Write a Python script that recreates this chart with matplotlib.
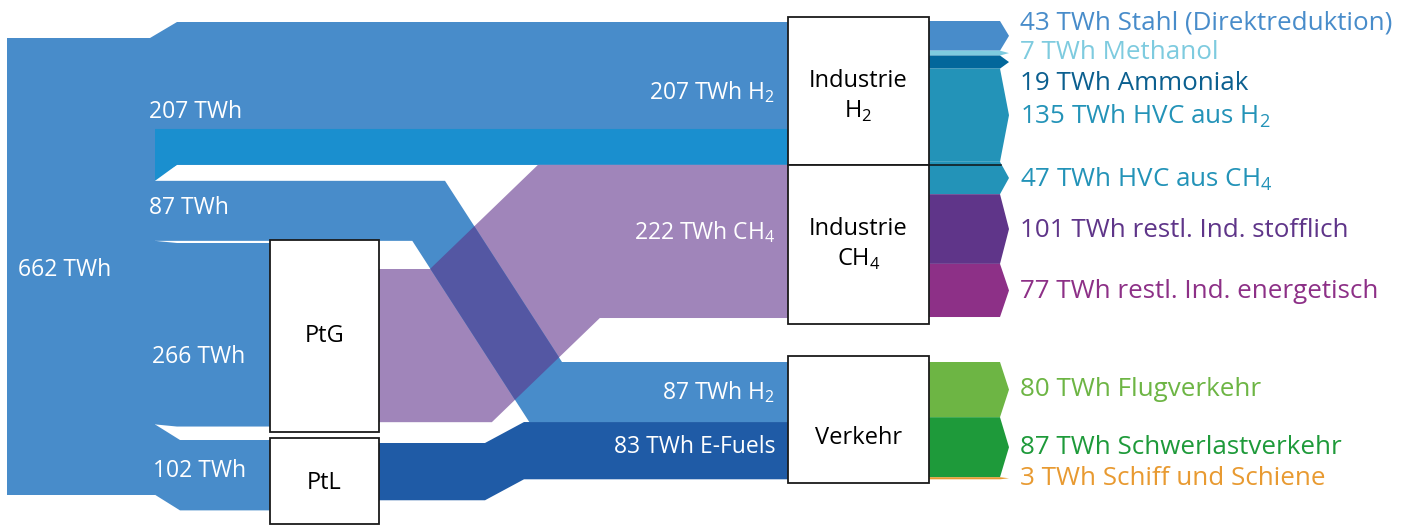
import numpy as np
import matplotlib.pyplot as plt
from matplotlib.patches import Polygon, Rectangle


# -----------------------------
# Data (TWh)
# -----------------------------

source_total = 662
source_flows = [207, 87, 266, 102]          # -> Industrie H2, Verkehr H2, PtG, PtL
source_flow_labels = ["207 TWh", "87 TWh", "266 TWh", "102 TWh"]
h2_highlight = 52                           # lower (cyan) part of the 207 TWh band

ptg_out = 222                               # CH4 to Industrie
ptl_out = 83                                # E-Fuels to Verkehr

ind_h2_uses = [43, 7, 19, 135]
ind_h2_names = ["Stahl (Direktreduktion)", "Methanol", "Ammoniak", r"HVC aus H$_\mathregular{2}$"]

ind_ch4_uses = [47, 101, 77]
ind_ch4_names = [r"HVC aus CH$_\mathregular{4}$", "restl. Ind. stofflich", "restl. Ind. energetisch"]

verkehr_uses = [80, 87, 3]
verkehr_names = ["Flugverkehr", "Schwerlastverkehr", "Schiff und Schiene"]


# -----------------------------
# Style / layout
# -----------------------------

OUTPUT_FILE = "out.png"

S = 0.69          # pixels per TWh

C_BLUE = "#488CCA"
C_CYAN = "#1A8FCF"
C_PURPLE = "#A085BA"
C_OVERLAP = "#5457A3"
C_EFUEL = "#1F5BA6"

ind_h2_colors = ["#488CCA", "#7ECBDF", "#02679B", "#2393B8"]
ind_ch4_colors = ["#2393B8", "#5F3589", "#8D3087"]
verkehr_colors = ["#6DB544", "#1E9A3A", "#E89A31"]
ind_h2_label_colors = ["#488CCA", "#7ECBDF", "#0B5F8F", "#2393B8"]

plt.rcParams["font.family"] = ["Open Sans", "DejaVu Sans"]
plt.rcParams["mathtext.fontset"] = "custom"
plt.rcParams["mathtext.rm"] = "Open Sans"

SRC_X0, SRC_X1, SRC_TOP = 7, 155, 38
MID_X0, MID_X1 = 270, 379          # PtG / PtL column
END_X0, END_X1 = 788, 929          # Industrie / Verkehr column
ARROW_END, ARROW_TIP = 1000, 9
LABEL_X = 1020

FS_RIGHT = 18.7
FS_WHITE = 16.5
FS_BOX = 17


# -----------------------------
# Helpers
# -----------------------------

def ramp_band(x0, x1, xr0, xr1, y0, y1, h):
  # sheared band: moves vertically between xr0 and xr1
  return [(x0, y0), (xr0, y0), (xr1, y1), (x1, y1),
          (x1, y1 + h), (xr1, y1 + h), (xr0, y0 + h), (x0, y0 + h)]


def diag_band(x0, x1, xd0, xd1, y0, y1, h):
  # band with constant perpendicular thickness along the diagonal
  m = (y1 - y0) / (xd1 - xd0)
  dx = h * (1 - np.sqrt(1 + m * m)) / m
  return [(x0, y0), (xd0, y0), (xd1, y1), (x1, y1),
          (x1, y1 + h), (xd1 + dx, y1 + h), (xd0 + dx, y0 + h), (x0, y0 + h)]


def chevron(x0, y, h):
  return [(x0, y), (ARROW_END, y), (ARROW_END + ARROW_TIP, y + h / 2),
          (ARROW_END, y + h), (x0, y + h)]


def add_poly(ax, pts, color, z=1):
  p = Polygon(pts, closed=True, facecolor=color, edgecolor="none", zorder=z)
  ax.add_patch(p)
  return p


# -----------------------------
# Plot
# -----------------------------

fig = plt.figure(figsize=(14.09, 5.25), dpi=100)
ax = fig.add_axes([0, 0, 1, 1])
ax.set_xlim(0, 1409)
ax.set_ylim(525, 0)
ax.axis("off")

# source stack positions
src_tops = SRC_TOP + S * np.concatenate([[0], np.cumsum(source_flows)[:-1]])
heights = [v * S for v in source_flows]

ax.add_patch(Rectangle((SRC_X0, SRC_TOP), SRC_X1 - SRC_X0, source_total * S,
                       facecolor=C_BLUE, edgecolor="none", zorder=1))

# targets
ind_top = 22
ind_split = ind_top + source_flows[0] * S
verkehr_top = 362
ptg_in_top, ptl_in_top = 243, 440
ptg_out_top, ptl_out_top = 269, 443

# 207 TWh -> Industrie H2
add_poly(ax, ramp_band(SRC_X1 - 5, END_X0, SRC_X1 - 5, 177, src_tops[0], ind_top, heights[0]), C_BLUE)
cy = ind_top + (source_flows[0] - h2_highlight) * S
add_poly(ax, [(SRC_X1, cy), (END_X0, cy), (END_X0, ind_split), (177, ind_split),
              (SRC_X1, src_tops[0] + heights[0])], C_CYAN, z=2)

# 266 TWh -> PtG, 102 TWh -> PtL
add_poly(ax, ramp_band(SRC_X1, MID_X0, SRC_X1, 177, src_tops[2], ptg_in_top, heights[2]), C_BLUE)
add_poly(ax, ramp_band(SRC_X1, MID_X0, SRC_X1, 180, src_tops[3], ptl_in_top, heights[3]), C_BLUE)

# PtG -> Industrie CH4
purple = add_poly(ax, diag_band(MID_X1, END_X0, 430, 538, ptg_out_top, ind_split, ptg_out * S), C_PURPLE, z=2)

# 87 TWh H2 -> Verkehr (crossing)
blue_pts = diag_band(SRC_X1, END_X0, 445, 562, src_tops[1], verkehr_top, heights[1])
add_poly(ax, blue_pts, C_BLUE, z=3)
ov = add_poly(ax, blue_pts, C_OVERLAP, z=4)
ov.set_clip_path(purple)

# PtL -> Verkehr
add_poly(ax, ramp_band(MID_X1, END_X0, 485, 524, ptl_out_top, verkehr_top + heights[1], ptl_out * S), C_EFUEL, z=2)

# output arrows
out_y = 21
ind_uses = ind_h2_uses + ind_ch4_uses
ind_colors = ind_h2_colors + ind_ch4_colors
ind_out_tops = out_y + S * np.concatenate([[0], np.cumsum(ind_uses)[:-1]])
for v, t, c in zip(ind_uses, ind_out_tops, ind_colors):
  add_poly(ax, chevron(END_X1, t, v * S), c, z=2)

ver_out_tops = verkehr_top + S * np.concatenate([[0], np.cumsum(verkehr_uses)[:-1]])
for v, t, c in zip(verkehr_uses, ver_out_tops, verkehr_colors):
  add_poly(ax, chevron(END_X1, t, v * S), c, z=2)

ax.plot([END_X1, ARROW_END + 1], [ind_split, ind_split], color="#111111", lw=1.1, zorder=6)

# nodes (label y offset in px)
boxes = [
  (MID_X0, 240, MID_X1, 432, "PtG", 0),
  (MID_X0, 438, MID_X1, 524, "PtL", 2),
  (END_X0, 17, END_X1, ind_split, "Industrie\nH$_\\mathregular{2}$", 6),
  (END_X0, ind_split, END_X1, 324, "Industrie\nCH$_\\mathregular{4}$", 0),
  (END_X0, 356, END_X1, 483, "Verkehr", 18),
]
for x0, y0, x1, y1, name, dy in boxes:
  ax.add_patch(Rectangle((x0, y0), x1 - x0, y1 - y0, facecolor="white",
                         edgecolor="#1a1a1a", lw=1.3, zorder=5))
  ax.text((x0 + x1) / 2, (y0 + y1) / 2 + dy, name, ha="center", va="center",
          fontsize=FS_BOX, color="black", linespacing=1.3, zorder=7)

# white flow labels
ax.text(18, 270, f"{source_total} TWh", color="white", fontsize=FS_WHITE, va="center", zorder=8)
left_label_pos = [(149, 112), (149, 208), (152, 357), (153, 471)]
for (x, y), lab in zip(left_label_pos, source_flow_labels):
  ax.text(x, y, lab, color="white", fontsize=FS_WHITE, va="center", zorder=8)

mid_labels = [
  (92, f"{source_flows[0]} TWh H$_\\mathregular{{2}}$"),
  (232, f"{ptg_out} TWh CH$_\\mathregular{{4}}$"),
  (392, f"{source_flows[1]} TWh H$_\\mathregular{{2}}$"),
  (447, f"{ptl_out} TWh E-Fuels"),
]
for y, lab in mid_labels:
  ax.text(775, y, lab, color="white", fontsize=FS_WHITE, va="center", ha="right", zorder=8)

# right labels
label_nudge = {0: -13, 1: -1, 2: 21}
for i, (v, t, name, c) in enumerate(zip(ind_uses, ind_out_tops,
                                        ind_h2_names + ind_ch4_names,
                                        ind_h2_label_colors + ind_ch4_colors)):
  y = t + v * S / 2 + label_nudge.get(i, 1)
  ax.text(LABEL_X, y, f"{v} TWh {name}", color=c, fontsize=FS_RIGHT, va="center", zorder=8)

for v, t, name, c in zip(verkehr_uses, ver_out_tops, verkehr_names, verkehr_colors):
  y = t + v * S / 2
  ax.text(LABEL_X, y, f"{v} TWh {name}", color=c, fontsize=FS_RIGHT, va="center", zorder=8)


# -----------------------------
# Save
# -----------------------------

fig.savefig(OUTPUT_FILE, dpi=100)
plt.close(fig)

print(f"Saved: {OUTPUT_FILE}")
